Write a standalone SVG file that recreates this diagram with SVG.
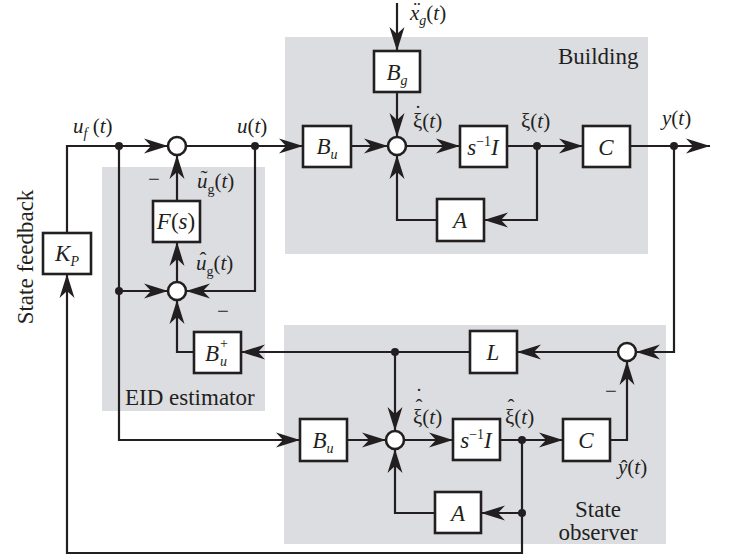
<svg xmlns="http://www.w3.org/2000/svg" width="734" height="559" viewBox="0 0 734 559">
<style>
.bg{fill:#dcdde0}
.ln{fill:none;stroke:#231f20;stroke-width:2.2;marker-end:url(#ah)}
.bx{fill:#fff;stroke:#231f20;stroke-width:2.6}
.sm{fill:#fff;stroke:#231f20;stroke-width:2.6}
.dot{fill:#231f20}
text{font-family:"Liberation Serif","Times New Roman",serif;fill:#231f20}
.t{font-size:23px}
.m{font-size:21px}
.b{font-size:23px;text-anchor:middle}
.i{font-style:italic}
.s{font-size:14px}
.ac{font-size:21px;text-anchor:middle}
</style>
<defs>
<marker id="ah" markerUnits="userSpaceOnUse" viewBox="-25 -8 26 16" markerWidth="26" markerHeight="16" refX="0" refY="0" orient="auto">
<path d="M0,0 L-24,-7.5 L-17,0 L-24,7.5 Z" fill="#231f20"/>
</marker>
</defs>

<g id="regions">
<rect class="bg" x="285" y="37" width="363" height="217"/>
<rect class="bg" x="102" y="167" width="163" height="244"/>
<rect class="bg" x="284" y="325" width="382" height="219"/>
<text class="t" x="558" y="64">Building</text>
<text class="t" x="125" y="405">EID estimator</text>
<text class="t" x="598" y="517" text-anchor="middle">State</text>
<text class="t" x="598" y="540" text-anchor="middle">observer</text>
<text class="t" transform="translate(33,257) rotate(-90)" text-anchor="middle">State feedback</text>
</g>

<g id="connectors">
<path class="ln" d="M67,233 V146 H168"/>
<path class="ln" d="M186,146 H303"/>
<path class="ln" d="M351,146 H388"/>
<path class="ln" d="M397,3 V51"/>
<path class="ln" d="M397,92 V137"/>
<path class="ln" d="M406,146 H460"/>
<path class="ln" d="M507,146 H583"/>
<path class="ln" d="M630,146 H710"/>
<path class="ln" d="M537,146 V220 H484"/>
<path class="ln" d="M437,220 H397 V155"/>
<path class="ln" d="M674,146 V352 H636"/>
<path class="ln" d="M618,352 H517"/>
<path class="ln" d="M470,352 H241"/>
<path class="ln" d="M194,352 H177 V300"/>
<path class="ln" d="M255,146 V291 H186"/>
<path class="ln" d="M119,146 V440 H300"/>
<path class="ln" d="M119,291 H168"/>
<path class="ln" d="M177,282 V242"/>
<path class="ln" d="M177,201 V155"/>
<path class="ln" d="M347,440 H386"/>
<path class="ln" d="M395,352 V431"/>
<path class="ln" d="M404,440 H453"/>
<path class="ln" d="M500,440 H563"/>
<path class="ln" d="M610,440 H627 V361"/>
<path class="ln" d="M522,440 V513 H481"/>
<path class="ln" d="M435,513 H395 V449"/>
<path class="ln" d="M522,513 V553 H67 V274"/>
<circle class="dot" cx="119" cy="146" r="4"/>
<circle class="dot" cx="255" cy="146" r="4"/>
<circle class="dot" cx="537" cy="146" r="4"/>
<circle class="dot" cx="674" cy="146" r="4"/>
<circle class="dot" cx="119" cy="291" r="4"/>
<circle class="dot" cx="395" cy="352" r="4"/>
<circle class="dot" cx="522" cy="440" r="4"/>
<circle class="dot" cx="522" cy="513" r="4"/>
</g>

<g id="sum-top"><circle class="sm" cx="177" cy="146" r="9"/></g>
<g id="sum-building"><circle class="sm" cx="397" cy="146" r="9"/></g>
<g id="sum-eid"><circle class="sm" cx="177" cy="291" r="9"/></g>
<g id="sum-output"><circle class="sm" cx="627" cy="352" r="9"/></g>
<g id="sum-observer"><circle class="sm" cx="395" cy="440" r="9"/></g>

<g id="Bg"><rect class="bx" x="374" y="51" width="46" height="41"/>
<text class="b" x="397" y="80"><tspan class="i">B</tspan><tspan class="i s" dy="5">g</tspan></text></g>
<g id="Bu"><rect class="bx" x="303" y="126" width="48" height="41"/>
<text class="b" x="327" y="154"><tspan class="i">B</tspan><tspan class="i s" dy="5">u</tspan></text></g>
<g id="sI"><rect class="bx" x="460" y="126" width="47" height="41"/>
<text class="b" x="483" y="155"><tspan class="i">s</tspan><tspan class="s" dy="-9">−1</tspan><tspan class="i" dy="9">I</tspan></text></g>
<g id="C"><rect class="bx" x="583" y="126" width="47" height="41"/>
<text class="b i" x="606" y="155">C</text></g>
<g id="A"><rect class="bx" x="437" y="199" width="47" height="42"/>
<text class="b i" x="460" y="228">A</text></g>
<g id="Fs"><rect class="bx" x="153" y="201" width="47" height="41"/>
<text class="b" x="176" y="229"><tspan class="i">F</tspan>(<tspan class="i">s</tspan>)</text></g>
<g id="Kp"><rect class="bx" x="43" y="233" width="48" height="41"/>
<text class="b" x="67" y="261"><tspan class="i">K</tspan><tspan class="i s" dy="5">P</tspan></text></g>
<g id="Buplus"><rect class="bx" x="194" y="332" width="47" height="41"/>
<text class="t i" x="205" y="361">B</text><text class="s" x="220" y="348">+</text><text class="s i" x="220" y="366">u</text></g>
<g id="L"><rect class="bx" x="470" y="331" width="47" height="42"/>
<text class="b i" x="493" y="360">L</text></g>
<g id="Bu-obs"><rect class="bx" x="300" y="419" width="47" height="42"/>
<text class="b" x="323" y="448"><tspan class="i">B</tspan><tspan class="i s" dy="5">u</tspan></text></g>
<g id="sI-obs"><rect class="bx" x="453" y="419" width="47" height="41"/>
<text class="b" x="476" y="448"><tspan class="i">s</tspan><tspan class="s" dy="-9">−1</tspan><tspan class="i" dy="9">I</tspan></text></g>
<g id="C-obs"><rect class="bx" x="563" y="419" width="47" height="42"/>
<text class="b i" x="586" y="448">C</text></g>
<g id="A-obs"><rect class="bx" x="435" y="492" width="46" height="41"/>
<text class="b i" x="458" y="521">A</text></g>

<g id="labels">
<text class="m" x="410" y="20"><tspan class="i">x</tspan><tspan class="i s" dy="5">g</tspan><tspan dy="-5">(</tspan><tspan class="i">t</tspan>)</text>
<text class="ac" x="417" y="16">¨</text>
<text class="m" x="73" y="133"><tspan class="i">u</tspan><tspan class="i s" dy="5">f</tspan><tspan dy="-5"> (</tspan><tspan class="i">t</tspan>)</text>
<text class="m" x="237" y="133"><tspan class="i">u</tspan>(<tspan class="i">t</tspan>)</text>
<text class="m" x="197" y="188"><tspan class="i">u</tspan><tspan class="s" dy="6">g</tspan><tspan dy="-6">(</tspan><tspan class="i">t</tspan>)</text>
<text class="ac" x="204" y="185">˜</text>
<text class="m" x="196" y="270"><tspan class="i">u</tspan><tspan class="s" dy="6">g</tspan><tspan dy="-6">(</tspan><tspan class="i">t</tspan>)</text>
<text class="ac" x="203" y="267">ˆ</text>
<text class="m" x="154" y="186" text-anchor="middle">−</text>
<text class="m" x="223" y="318" text-anchor="middle">−</text>
<text class="m" x="611" y="398" text-anchor="middle">−</text>
<text class="m" x="413" y="128">ξ(<tspan class="i">t</tspan>)</text>
<text class="ac" x="418" y="120">˙</text>
<text class="m" x="521" y="128">ξ(<tspan class="i">t</tspan>)</text>
<text class="m" x="662" y="125"><tspan class="i">y</tspan>(<tspan class="i">t</tspan>)</text>
<text class="m" x="413" y="424">ξ(<tspan class="i">t</tspan>)</text>
<text class="ac" x="419" y="414">ˆ</text>
<text class="ac" x="419" y="403">˙</text>
<text class="m" x="505" y="424">ξ(<tspan class="i">t</tspan>)</text>
<text class="ac" x="511" y="414">ˆ</text>
<text class="m" x="618" y="474"><tspan class="i">y</tspan>(<tspan class="i">t</tspan>)</text>
<text class="ac" x="624" y="475">ˆ</text>
</g>
</svg>
